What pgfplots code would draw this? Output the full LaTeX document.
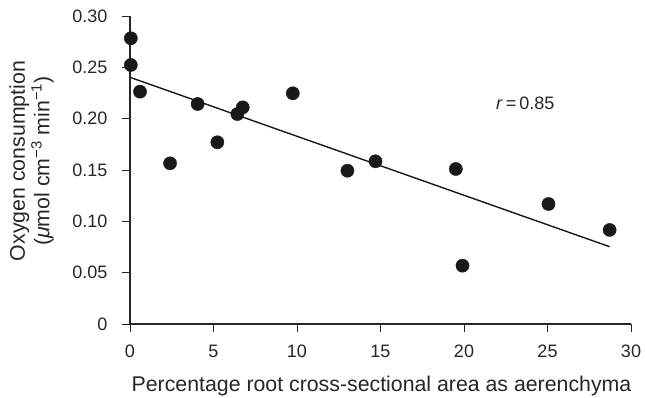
\documentclass[border=0pt]{standalone}
\usepackage{pgfplots}
\pgfplotsset{compat=1.18}
\usepackage{fontspec}
\setmainfont{Liberation Sans}
\begin{document}
\fontsize{18}{21}\selectfont
\begin{tikzpicture}
\useasboundingbox (-130pt,-73pt) rectangle (515pt,324pt);
\begin{axis}[
  at={(0pt,0pt)}, anchor=south west,
  scale only axis, width=501pt, height=308pt,
  xmin=0, xmax=30, ymin=0, ymax=0.30,
  axis lines=left,
  axis line style={-, line width=1.5pt, black!85},
  xtick={0,5,10,15,20,25,30},
  ytick={0,0.05,0.10,0.15,0.20,0.25,0.30},
  yticklabels={0,0.05,0.10,0.15,0.20,0.25,0.30},
  xticklabels={0,5,10,15,20,25,30},
  /pgf/number format/assume math mode=true,
  tick align=outside, major tick length=8pt,
  tick style={black!85, line width=0.8pt},
  tick label style={font=\fontsize{18}{21}\selectfont, text=black!85},
  xticklabel style={yshift=-7pt},
  yticklabel style={xshift=-8.5pt},
  label style={font=\fontsize{21.3}{24.5}\selectfont, text=black!85},
  xlabel={Percentage root cross-sectional area as aerenchyma},
  xlabel style={anchor=base, at={(axis description cs:0.502,-0.22)}},
  ylabel={Oxygen consumption\\(\textit{μ}mol cm\textsuperscript{−3} min\textsuperscript{−1})},
  ylabel style={align=center, anchor=center, at={(axis description cs:-0.1966,0.529)}},
  clip=false,
]
\addplot[only marks, mark=*, mark size=6.6pt, black!90] coordinates {
(0.05,0.2783) (0.05,0.2523) (0.6,0.2263) (4.05,0.2143) (6.75,0.211)
(6.43,0.2045) (5.23,0.177) (2.40,0.1565) (9.75,0.2247) (14.70,0.1585)
(13.02,0.1493) (19.51,0.151) (25.06,0.1169) (28.72,0.0916) (19.91,0.0568)
};
\addplot[no marks, line width=1.4pt, black!90] coordinates {(0,0.2403) (28.72,0.0753)};
\node[text=black!85, font=\fontsize{18}{21}\selectfont] at (axis cs:23.67,0.2146) {\textit{r}\,=\,0.85};
\end{axis}
\end{tikzpicture}
\end{document}
